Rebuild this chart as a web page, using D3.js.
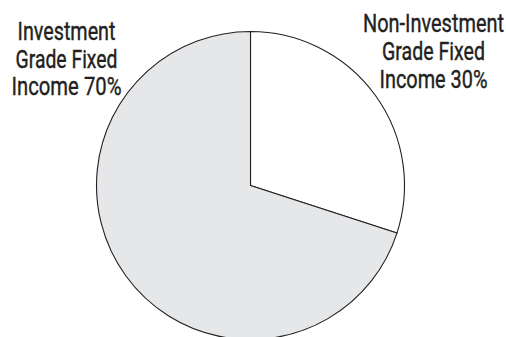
<!DOCTYPE html>
<html>
<head>
<meta charset="utf-8">
<script src="https://cdn.jsdelivr.net/npm/d3@7"></script>
<style>
  html, body { margin: 0; padding: 0; background: #fff; }
</style>
</head>
<body>
<div id="canvas"></div>
<script>
"use strict"

/* Data: share of each fixed income type (percent) */
let categories = ["Non-Investment Grade Fixed Income", "Investment Grade Fixed Income"];
let values = [30, 70];
let fills = ["#ffffff", "#e6e7e8"];

// label lines for each slice, same order as categories
let labelLines = [
    ["Non-Investment", "Grade Fixed", "Income 30%"],
    ["Investment", "Grade Fixed", "Income 70%"]
];
// measured widths of each label line, for the condensed look
let labelWidths = [
    [141, 103, 108],
    [98, 102, 110]
];

/* Drawing config */
let svgWidth = 506;
let svgHeight = 337;
let cx = 250.5;
let cy = 185.5;
let radius = 154;

let svg = d3.select("#canvas")
    .append("svg")
    .attr("width", svgWidth)
    .attr("height", svgHeight);

let pie = d3.pie()
    .sort(null)
    .value(function(d, i) { return values[i]; });

let arc = d3.arc()
    .innerRadius(0)
    .outerRadius(radius);

svg.append("g")
    .attr("transform", "translate(" + cx + "," + cy + ")")
    .selectAll("path")
    .data(pie(categories))
    .join("path")
    .attr("d", arc)
    .attr("fill", function(d, i) { return fills[i]; })
    .attr("stroke", "#231f20")
    .attr("stroke-width", 1.1)
    .attr("stroke-linejoin", "round");

/* Labels: right one for the 30% slice, left one for the 70% slice */
let labelPos = [
    { x: 433.5, y: 32.3, step: 27.7 },
    { x: 66.5, y: 40.3, step: 27.4 }
];

for (let i = 0; i < labelLines.length; i++) {
    let lines = labelLines[i];
    for (let j = 0; j < lines.length; j++) {
        let g = svg.append("g");
        let t = g.append("text")
            .attr("x", 0)
            .attr("y", 0)
            .attr("text-anchor", "middle")
            .style("font-family", "Roboto, 'Liberation Sans', sans-serif")
            .style("font-size", "25.5px")
            .style("fill", "#231f20")
            .style("stroke", "#231f20")
            .style("stroke-width", 0.4)
            .text(lines[j]);
        // squeeze horizontally to a condensed face
        let sx = labelWidths[i][j] / t.node().getComputedTextLength();
        g.attr("transform", "translate(" + labelPos[i].x + "," +
            (labelPos[i].y + j * labelPos[i].step) + ") scale(" + sx + ",1)");
    }
}
</script>
</body>
</html>
